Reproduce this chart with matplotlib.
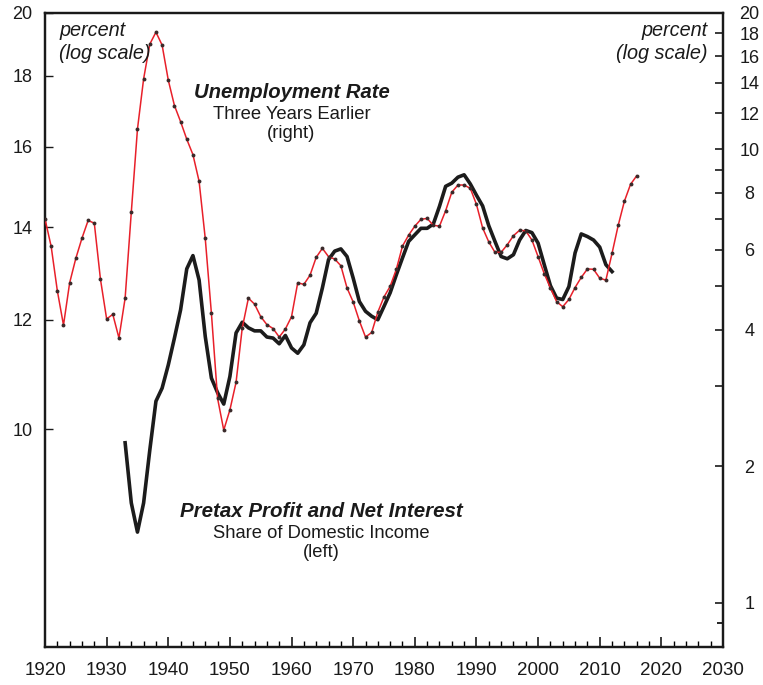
import numpy as np
import matplotlib
matplotlib.use('Agg')
import matplotlib.pyplot as plt
from matplotlib.ticker import FixedLocator, FixedFormatter, NullFormatter

plt.rcParams['font.family'] = ['Liberation Sans', 'DejaVu Sans']

# unemployment rate three years earlier (right axis, log)
unemp_years = list(range(1920, 2017))
unemp_rate = [7.01, 6.10, 4.87, 4.09, 5.07, 5.74, 6.36, 6.96, 6.86, 5.16,
              4.22, 4.32, 3.83, 4.69, 7.25, 11.06, 14.28, 17.03, 18.1, 16.95,
              14.19, 12.47, 11.49, 10.51, 9.72, 8.49, 6.35, 4.34, 2.82, 2.40,
              2.66, 3.06, 4.03, 4.69, 4.55, 4.27, 4.10, 4.02, 3.85, 4.01,
              4.27, 5.07, 5.03, 5.27, 5.77, 6.04, 5.79, 5.72, 5.53, 4.94,
              4.60, 4.18, 3.85, 3.94, 4.37, 4.72, 4.98, 5.43, 6.11, 6.46,
              6.76, 7.00, 7.03, 6.79, 6.76, 7.31, 8.03, 8.33, 8.33, 8.19,
              7.55, 6.70, 6.24, 5.92, 5.92, 6.15, 6.44, 6.62, 6.60, 6.30,
              5.79, 5.31, 4.94, 4.61, 4.49, 4.66, 4.95, 5.21, 5.44, 5.43,
              5.19, 5.14, 5.89, 6.79, 7.67, 8.36, 8.73]

# pretax profit and net interest share of domestic income (left axis, log)
profit_years = list(range(1933, 2013))
profit_share = [9.78, 8.85, 8.43, 8.85, 9.66, 10.48, 10.71,
                11.13, 11.64, 12.20, 13.06, 13.35, 12.82, 11.67, 10.89, 10.63, 10.43,
                10.92, 11.74, 11.95, 11.84, 11.78, 11.78, 11.66, 11.64, 11.53, 11.69,
                11.45, 11.35, 11.51, 11.94, 12.13, 12.65, 13.26, 13.45, 13.50, 13.33,
                12.86, 12.37, 12.17, 12.07, 12.00, 12.27, 12.55, 12.93, 13.30, 13.67,
                13.82, 13.97, 13.97, 14.07, 14.49, 14.98, 15.06, 15.21, 15.27, 15.04,
                14.76, 14.50, 14.03, 13.67, 13.33, 13.28, 13.37, 13.70, 13.92, 13.87,
                13.63, 13.15, 12.70, 12.44, 12.41, 12.68, 13.41, 13.84, 13.78, 13.70,
                13.54, 13.15, 13.00]

left_ticks = [10, 12, 14, 16, 18, 20]
right_ticks = [1, 2, 3, 4, 5, 6, 7, 8, 9, 10, 12, 14, 16, 18, 20]
right_labels = ['1', '2', '', '4', '', '6', '', '8', '', '10', '12', '14', '16', '18', '20']
year_ticks = list(range(1920, 2031, 10))

fig = plt.figure(figsize=(7.63, 6.85), dpi=100)
ax = fig.add_axes([45/763, 1 - 646.5/685, 678/763, 634/685])
ax2 = ax.twinx()

ax.plot(profit_years, profit_share, color='#1c1c1c', lw=2.6, solid_joinstyle='round', zorder=3)
ax2.plot(unemp_years, unemp_rate, color='#e8202a', lw=1.1, marker='o', ms=2.8,
         mfc='#3a2a2a', mec='#3a2a2a', mew=0, zorder=4)

ax.set_yscale('log')
ax2.set_yscale('log')
ax.set_xlim(1920, 2030)
ax.set_ylim(6.97, 20)
ax2.set_ylim(0.8, 20)

ax.yaxis.set_major_locator(FixedLocator(left_ticks))
ax.yaxis.set_major_formatter(FixedFormatter([str(t) for t in left_ticks]))
ax.yaxis.set_minor_locator(FixedLocator([]))
ax.yaxis.set_minor_formatter(NullFormatter())

ax2.yaxis.set_major_locator(FixedLocator(right_ticks))
ax2.yaxis.set_major_formatter(FixedFormatter(right_labels))
ax2.yaxis.set_minor_locator(FixedLocator([0.9]))
ax2.yaxis.set_minor_formatter(NullFormatter())

ax.set_xticks(year_ticks)
ax.set_xticks(range(1920, 2031, 2), minor=True)

for s in ax.spines.values():
    s.set_linewidth(1.6)
    s.set_color('#1a1a1a')
for s in ax2.spines.values():
    s.set_linewidth(1.6)
    s.set_color('#1a1a1a')

ax.tick_params(axis='x', which='major', direction='in', length=7, width=1.2, pad=11, labelsize=13.5, colors='#1a1a1a')
ax.tick_params(axis='x', which='minor', direction='in', length=4, width=1.0)
ax.tick_params(axis='y', which='major', direction='in', length=6, width=1.0, pad=9, labelsize=13, colors='#1a1a1a')
ax2.tick_params(axis='y', which='major', direction='in', length=6, width=1.2, pad=19, labelsize=13, colors='#1a1a1a')
ax2.tick_params(axis='y', which='minor', direction='in', length=4, width=1.2)
for lab in ax2.get_yticklabels():
    lab.set_horizontalalignment('center')

tc = '#1a1a1a'
fig.text(59/763, 1 - 36/685, 'percent', style='italic', fontsize=14.3, color=tc)
fig.text(59/763, 1 - 59/685, '(log scale)', style='italic', fontsize=14.3, color=tc)
fig.text(708/763, 1 - 36/685, 'percent', style='italic', fontsize=14.3, color=tc, ha='right')
fig.text(708/763, 1 - 59/685, '(log scale)', style='italic', fontsize=14.3, color=tc, ha='right')

fig.text(291.5/763, 1 - 98/685, 'Unemployment Rate', style='italic', weight='bold',
         fontsize=14.6, color=tc, ha='center')
fig.text(291.5/763, 1 - 119/685, 'Three Years Earlier', fontsize=13.3, color=tc, ha='center')
fig.text(291.5/763, 1 - 138/685, '(right)', fontsize=13.3, color=tc, ha='center')

fig.text(321.7/763, 1 - 517/685, 'Pretax Profit and Net Interest', style='italic', weight='bold',
         fontsize=14.8, color=tc, ha='center')
fig.text(321.7/763, 1 - 538.5/685, 'Share of Domestic Income', fontsize=13.2, color=tc, ha='center')
fig.text(321.7/763, 1 - 557/685, '(left)', fontsize=13.2, color=tc, ha='center')

fig.savefig('out.png', dpi=100)
